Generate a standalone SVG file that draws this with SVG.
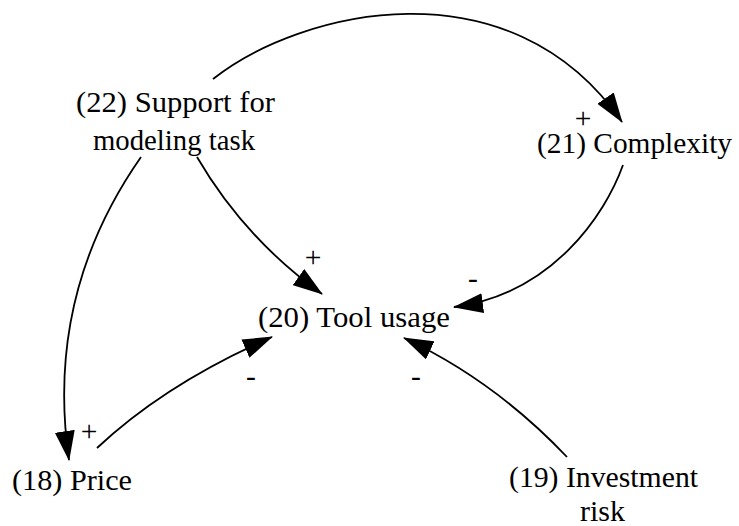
<svg xmlns="http://www.w3.org/2000/svg" width="739" height="526" viewBox="0 0 739 526">
  <style>
    .t { font-size: 29.5px; fill: #000; text-anchor: middle; }
    .edge { fill: none; stroke: #000; stroke-width: 1.8; marker-end: url(#arrow); }
  </style>
  <defs>
    <marker id="arrow" markerUnits="userSpaceOnUse" viewBox="0 0 30 20" markerWidth="30" markerHeight="20" refX="29" refY="10" orient="auto">
      <path d="M0,0 L30,10 L0,20 Z" fill="#000"/>
    </marker>
  </defs>

  <rect width="739" height="526" fill="#fff"/>

  <g id="connectors">
    <path class="edge" d="M213,79 C300,10 510,-40 622,122"/>
    <path class="edge" d="M197,157 Q244.5,238.5 322,294"/>
    <path class="edge" d="M141,157 C90,230 50,330 69,460"/>
    <path class="edge" d="M97,448 Q165.5,383.5 272,337"/>
    <path class="edge" d="M567,457 Q494.5,380.5 404,338"/>
    <path class="edge" d="M623,165 C605,215 552,294 454,307"/>
  </g>

  <g id="polarities" font-family="Liberation Serif, serif">
    <text class="t" x="313" y="267">+</text>
    <text class="t" x="583" y="128">+</text>
    <text class="t" x="89" y="441">+</text>
    <text class="t" x="473" y="288">-</text>
    <text class="t" x="251" y="386">-</text>
    <text class="t" x="416" y="386">-</text>
  </g>

  <g id="node-22" font-family="Liberation Serif, serif">
    <text class="t" x="175.5" y="112" textLength="199" lengthAdjust="spacingAndGlyphs">(22) Support for</text>
    <text class="t" x="174" y="149.5" textLength="162" lengthAdjust="spacingAndGlyphs">modeling task</text>
  </g>
  <g id="node-21" font-family="Liberation Serif, serif">
    <text class="t" x="634.5" y="153" textLength="195" lengthAdjust="spacingAndGlyphs">(21) Complexity</text>
  </g>
  <g id="node-20" font-family="Liberation Serif, serif">
    <text class="t" x="354" y="327" textLength="192" lengthAdjust="spacingAndGlyphs">(20) Tool usage</text>
  </g>
  <g id="node-18" font-family="Liberation Serif, serif">
    <text class="t" x="72" y="490" textLength="120" lengthAdjust="spacingAndGlyphs">(18) Price</text>
  </g>
  <g id="node-19" font-family="Liberation Serif, serif">
    <text class="t" x="603.5" y="487" textLength="189" lengthAdjust="spacingAndGlyphs">(19) Investment</text>
    <text class="t" x="602.5" y="521" textLength="45" lengthAdjust="spacingAndGlyphs">risk</text>
  </g>
</svg>
